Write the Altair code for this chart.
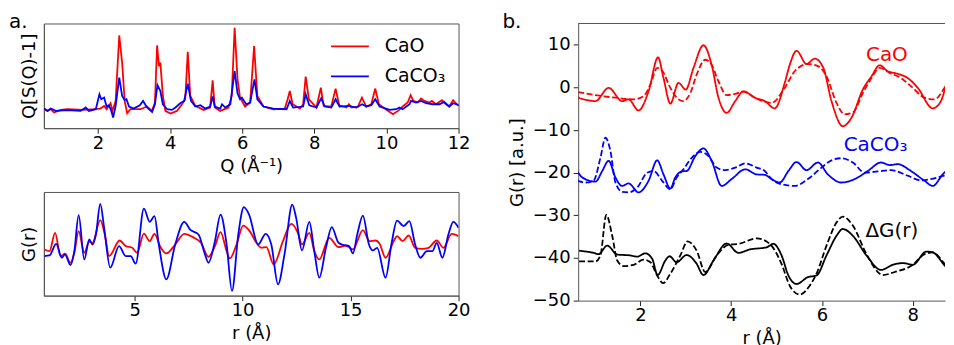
import altair as alt
import pandas as pd

FONT = "DejaVu Sans"

# ---------------- panel a, top: Q[S(Q)-1]  (Q, arbitrary units)
SQ_CAO = [(0.51,19),(0.6,17.3),(0.69,19),(0.78,15.7),(0.97,18.3),(1.15,19),(1.61,18.3),(1.89,19),
          (2.07,19.7),(2.17,22.3),(2.24,19),(2.35,25),(2.40,17.3),(2.49,27.3),(2.59,93),(2.67,65.7),
          (2.74,27.3),(2.81,15),(2.90,19),(3.18,19),(3.36,21.7),(3.5,17.3),(3.58,25.7),(3.64,83),
          (3.69,62.3),(3.73,65.7),(3.80,32.3),(3.87,17.3),(4.01,14.7),(4.19,17.3),(4.33,24),(4.42,29),
          (4.49,76.7),(4.56,32.3),(4.70,22.3),(4.93,18.3),(5.11,20.7),(5.18,48),(5.24,20.7),(5.39,17.3),
          (5.62,20.7),(5.71,32.3),(5.79,100.7),(5.87,49),(5.94,30.7),(6.08,21.7),(6.22,25.7),(6.33,82.3),
          (6.42,32.3),(6.59,21.7),(6.86,19),(7.18,19.7),(7.26,29),(7.32,37.3),(7.40,24),(7.6,19.7),
          (7.69,24),(7.76,51.7),(7.85,29),(8.06,20.7),(8.18,40.7),(8.26,22.3),(8.47,21.7),(8.59,39.7),
          (8.69,23),(8.89,20.7),(8.96,24),(9.03,20.7),(9.21,21.7),(9.32,30.7),(9.44,21.7),(9.58,24),
          (9.69,39.7),(9.79,24),(9.95,19.7),(10.09,16.3),(10.18,14),(10.32,17.3),(10.45,21.7),(10.59,25.7),
          (10.67,33),(10.75,27.3),(10.87,25.7),(10.96,29.7),(11.05,27.3),(11.19,25.7),(11.26,27.3),
          (11.37,24),(11.54,28),(11.65,24),(11.74,21.7),(11.85,28),(11.95,24),(12.02,22.3)]
SQ_CACO3 = [(0.51,19.7),(0.6,17.3),(0.69,19.7),(0.83,17.3),(1.15,18),(1.52,17.3),(1.66,20.7),(1.75,17.3),
            (1.94,19),(2.04,34),(2.09,29),(2.17,30.7),(2.24,21.7),(2.30,23),(2.37,17.3),(2.42,10.7),
            (2.49,22.3),(2.59,50.7),(2.67,32.3),(2.74,28.3),(2.79,29),(2.86,21.7),(2.99,19.7),(3.16,23),
            (3.25,27.3),(3.36,20.7),(3.5,16.3),(3.58,24),(3.65,43.3),(3.73,37.3),(3.80,24),(3.92,19),
            (4.05,18.3),(4.15,20.7),(4.28,25),(4.39,27.3),(4.49,44.7),(4.58,27.3),(4.70,21.7),(4.84,23),
            (4.97,19.7),(5.11,21.7),(5.18,31.7),(5.24,21.7),(5.39,19.7),(5.44,24),(5.53,20.7),(5.67,24),
            (5.79,57.3),(5.87,35),(5.94,29),(5.99,30.7),(6.11,24),(6.22,25.7),(6.34,49),(6.42,29),
            (6.59,21.7),(6.86,19.7),(7.23,19),(7.32,27.3),(7.41,20.7),(7.69,21.7),(7.76,34),(7.86,23),
            (8.06,20.7),(8.19,30),(8.29,21.7),(8.47,20.7),(8.59,29),(8.70,21.7),(8.96,22.3),(9.16,20.7),
            (9.33,24),(9.44,21.7),(9.58,23),(9.69,29),(9.81,21.7),(10.09,18.3),(10.27,19),(10.36,20.7),
            (10.45,19),(10.64,24),(10.68,27.3),(10.82,25.7),(10.96,27.3),(11.1,25),(11.28,24),(11.47,24),
            (11.6,26.3),(11.74,21.7),(11.85,25),(12.02,23)]

# ---------------- panel a, bottom: G(r)  (r, arbitrary units)
GR_CAO = [(0.83,46.3),(1.06,44.7),(1.32,63),(1.57,39.7),(1.78,42),(2.03,33),(2.21,43),(2.41,64.7),
          (2.67,43),(2.90,54),(3.05,53),(3.41,75.7),(3.62,61.3),(3.82,39.7),(4.31,55.3),(4.59,49.7),
          (4.89,48),(5.12,43),(5.43,62.3),(5.70,54.7),(5.92,62),(6.20,48.7),(6.47,42.3),(6.88,51.3),
          (7.30,62),(7.70,58.7),(8.07,53),(8.42,39),(8.72,49.7),(8.98,63.7),(9.26,44.7),(9.41,37.3),
          (9.72,51.3),(10.03,70.3),(10.33,64.7),(10.64,53),(10.87,48),(11.1,48.7),(11.44,31.3),
          (11.87,54.7),(12.25,72),(12.56,63),(12.75,51.3),(13.09,63),(13.32,44.7),(13.55,36.3),
          (14.01,58),(14.44,48.7),(14.78,50.3),(15.11,46.3),(15.57,65.7),(15.88,54.7),(16.16,55.3),
          (16.34,52.3),(16.62,38),(17.0,54.7),(17.15,59.7),(17.41,54.7),(17.69,60.3),(17.99,48),
          (18.3,47),(18.61,48),(18.99,55.3),(19.3,48),(19.68,62),(20.0,59.7)]
GR_CACO3 = [(0.83,39.7),(1.06,40.3),(1.37,52),(1.63,38),(1.78,41.3),(2.03,30.7),(2.21,44.7),(2.41,80.7),
            (2.67,36.3),(2.90,56.3),(3.05,51.3),(3.21,61.3),(3.41,92),(3.59,68),(3.87,28),(4.28,49.7),
            (4.59,39.7),(4.82,39.7),(5.05,32),(5.43,87.3),(5.70,74),(5.92,79.7),(6.12,51.3),(6.47,16.3),
            (6.88,51.3),(7.30,74),(7.57,66.3),(7.96,61.3),(8.26,41.3),(8.42,33),(8.72,54.7),(8.98,81.3),
            (9.26,51.3),(9.51,4.7),(9.80,61.3),(10.06,88.7),(10.30,81.3),(10.72,51.3),(11.07,62),
            (11.33,51.3),(11.64,11.3),(11.94,41.3),(12.3,91.3),(12.48,78),(12.75,45.3),(13.09,74),
            (13.32,44.7),(13.55,18),(13.86,48),(14.13,68.7),(14.44,53),(14.7,50.7),(14.93,49.7),
            (15.11,42.3),(15.31,61.3),(15.57,80.3),(15.85,51.3),(16.03,45.3),(16.23,48),(16.62,18),
            (16.89,51.3),(17.15,75.3),(17.46,69.7),(17.72,74.7),(17.99,51.3),(18.23,38),(18.53,44.7),
            (18.79,44.7),(18.99,53),(19.25,38),(19.53,61.3),(19.76,74),(20.0,68)]

# ---------------- panel b: G(r) [a.u.]
B_CAO_SOLID = [(0.63,-2.4),(1.01,-3.2),(1.30,-0.1),(1.60,-3.2),(1.74,-2.8),(1.96,-5.4),(2.18,-0.9),
               (2.39,7.06),(2.51,2.2),(2.66,-3.8),(2.84,1.06),(3.00,-0.5),(3.17,4.6),(3.39,9.9),(3.57,5.3),
               (3.72,-2.4),(3.90,-5.95),(4.09,-3.2),(4.27,-0.9),(4.52,-2.4),(4.74,-3.2),(4.96,-4.9),
               (5.18,1.06),(5.29,5.3),(5.44,8.6),(5.66,5.5),(5.84,6.75),(6.03,4.6),(6.21,-3.2),(6.46,-9.1),
               (6.65,-7.1),(6.90,-0.5),(7.09,2.6),(7.27,5.2),(7.45,3.8),(7.67,3.2),(7.89,2.2),(8.11,-0.1),
               (8.44,-4.9),(8.62,-3.2),(8.81,3.8),(8.89,6.3)]
B_CAO_DASH = [(0.63,-1.1),(1.01,-1.8),(1.45,-2.4),(1.85,-2.8),(2.07,-2.05),(2.22,0.67),(2.37,4.6),
              (2.49,3.8),(2.66,-0.1),(2.84,-2.8),(2.95,-3.2),(3.10,-1.3),(3.24,3.0),(3.43,6.5),(3.57,5.3),
              (3.72,1.45),(3.90,-1.8),(4.09,-1.5),(4.27,-1.0),(4.52,-2.4),(4.74,-3.4),(4.89,-3.6),
              (5.18,-0.1),(5.40,3.8),(5.69,5.5),(5.91,5.0),(6.10,2.6),(6.32,-3.6),(6.5,-6.3),(6.68,-5.9),
              (6.90,-1.3),(7.09,2.2),(7.27,4.6),(7.49,3.4),(7.74,2.2),(7.96,0.3),(8.26,-2.4),(8.48,-2.8),
              (8.70,-0.1),(8.89,3.4)]
B_CACO3_SOLID = [(0.61,-19.6),(0.72,-21.1),(1.01,-22.1),(1.16,-19.6),(1.30,-17.2),(1.45,-21.1),
                 (1.60,-23.1),(1.74,-22.5),(1.96,-24.6),(2.18,-21.9),(2.37,-17.1),(2.51,-20.4),
                 (2.66,-23.7),(2.77,-21.1),(2.91,-19.7),(3.02,-19.6),(3.21,-16.1),(3.39,-14.3),
                 (3.57,-17.2),(3.79,-23.1),(4.01,-21.5),(4.31,-19.2),(4.56,-20.4),(4.74,-20.5),
                 (4.89,-21.5),(5.07,-22.3),(5.26,-19.6),(5.44,-17.5),(5.66,-19.4),(5.91,-17.6),
                 (6.13,-20.4),(6.43,-22.3),(6.72,-21.5),(7.01,-19.6),(7.3,-17.6),(7.49,-18.2),
                 (7.67,-18.0),(7.96,-19.6),(8.26,-21.9),(8.44,-23.1),(8.66,-20.4),(8.89,-18.0)]
B_CACO3_DASH = [(0.61,-21.9),(0.79,-22.3),(0.97,-21.9),(1.12,-16.5),(1.23,-11.8),(1.34,-14.9),
                (1.45,-22.3),(1.60,-24.5),(1.74,-24.6),(1.93,-23.5),(2.15,-20.0),(2.29,-19.6),
                (2.48,-21.9),(2.66,-23.9),(2.80,-21.1),(2.95,-19.2),(3.13,-16.5),(3.32,-15.1),
                (3.50,-16.1),(3.68,-18.8),(3.87,-19.4),(4.09,-18.8),(4.31,-17.8),(4.56,-18.8),
                (4.74,-19.6),(4.89,-21.5),(5.11,-22.7),(5.40,-23.1),(5.69,-21.5),(5.99,-18.8),
                (6.21,-17.1),(6.43,-16.6),(6.68,-17.6),(6.94,-20.0),(7.23,-19.7),(7.52,-19.4),
                (7.89,-20.7),(8.18,-21.8),(8.40,-21.5),(8.70,-20.7),(8.89,-20.5)]
B_DG_SOLID = [(0.65,-38.3),(0.97,-38.8),(1.08,-39.1),(1.27,-37.1),(1.49,-39.2),(1.78,-39.4),(1.93,-39.7),
              (2.11,-38.9),(2.26,-40.2),(2.38,-44.0),(2.55,-40.6),(2.64,-39.6),(2.80,-41.0),(3.02,-39.3),
              (3.23,-41.2),(3.39,-44.0),(3.61,-40.6),(3.90,-36.6),(4.16,-38.8),(4.41,-38.0),(4.78,-37.5),
              (4.93,-36.7),(5.11,-39.4),(5.26,-44.1),(5.44,-46.1),(5.69,-44.5),(5.88,-44.1),(6.10,-39.4),
              (6.32,-34.8),(6.46,-33.2),(6.68,-34.8),(6.98,-39.4),(7.30,-42.8),(7.56,-41.6),(7.78,-41.2),
              (8.00,-41.6),(8.30,-38.5),(8.44,-38.7),(8.69,-41.6),(8.88,-44.0)]
B_DG_DASH = [(0.65,-40.8),(1.01,-40.8),(1.12,-39.4),(1.25,-29.9),(1.38,-34.8),(1.49,-40.6),(1.63,-41.9),
             (1.85,-41.6),(2.07,-40.4),(2.22,-41.0),(2.37,-44.1),(2.50,-45.9),(2.66,-43.7),(2.88,-39.4),
             (3.04,-36.1),(3.24,-38.3),(3.43,-43.3),(3.68,-39.4),(3.94,-36.9),(4.16,-36.7),(4.56,-35.4),
             (4.85,-36.7),(5.11,-41.4),(5.29,-46.5),(5.51,-48.6),(5.73,-46.5),(5.88,-43.7),(6.10,-37.1),
             (6.32,-31.7),(6.46,-30.3),(6.68,-32.4),(6.98,-39.1),(7.34,-44.0),(7.60,-43.3),(8.00,-41.6),
             (8.26,-39.1),(8.44,-38.7),(8.69,-41.2),(8.88,-43.7)]

SERIES_NAMES = ["CaO", "CaCO₃"]
SERIES_COLORS = ["#ff0000", "#0000ff"]
Q_TICKS = [2, 4, 6, 8, 10, 12]
RA_TICKS = [5, 10, 15, 20]
RB_XTICKS = [2, 4, 6, 8]
RB_YTICKS = [-50, -40, -30, -20, -10, 0, 10]
B_LABEL_TEXT = ["CaO", "CaCO₃", "ΔG(r)"]
B_LABEL_R = [7.43, 7.18, 7.54]
B_LABEL_G = [7.5, -13.4, -33.6]
B_LABEL_COLOR = ["#ff0000", "#0000ff", "#000000"]

LW = 1.8
FS = 18


def frame(pairs, xname, yname, **extra):
    df = pd.DataFrame(pairs, columns=[xname, yname])
    for k, v in extra.items():
        df[k] = v
    return df


# ---------- panel a top
sq = pd.concat([frame(SQ_CAO, "Q", "v", series="CaO"),
                frame(SQ_CACO3, "Q", "v", series="CaCO₃")], ignore_index=True)
top_lines = alt.Chart(sq).mark_line(strokeWidth=LW, clip=True).encode(
    x=alt.X("Q:Q", scale=alt.Scale(domain=[0.5, 12], nice=False, zero=False),
            axis=alt.Axis(values=Q_TICKS, title="Q (Å⁻¹)", titlePadding=5, labelPadding=1)),
    y=alt.Y("v:Q", scale=alt.Scale(domain=[0, 105], nice=False, zero=False),
            axis=alt.Axis(title="Q[S(Q)-1]", labels=False, ticks=False, titlePadding=5)),
    color=alt.Color("series:N", scale=alt.Scale(domain=SERIES_NAMES, range=SERIES_COLORS),
                    legend=alt.Legend(title=None, orient="none", legendX=287, legendY=3,
                                      symbolType="stroke", symbolSize=1444, symbolStrokeWidth=LW,
                                      labelFontSize=19, labelFont=FONT, labelColor="black",
                                      labelOffset=15, rowPadding=-4.5, padding=0)),
)
a_lab = alt.Chart(pd.DataFrame({"t": ["a."]})).mark_text(
    align="left", baseline="alphabetic", fontSize=20, font=FONT, color="black"
).encode(text="t:N", x=alt.value(-35), y=alt.value(5))
top = alt.layer(top_lines, a_lab).properties(width=416, height=105)

# ---------- panel a bottom
gr = pd.concat([frame(GR_CAO, "r", "g", series="CaO"),
                frame(GR_CACO3, "r", "g", series="CaCO₃")], ignore_index=True)
bottom = alt.Chart(gr).mark_line(strokeWidth=LW, interpolate="monotone", clip=True).encode(
    x=alt.X("r:Q", scale=alt.Scale(domain=[0.8, 20], nice=False, zero=False),
            axis=alt.Axis(values=RA_TICKS, title="r (Å)", titlePadding=5, labelPadding=1)),
    y=alt.Y("g:Q", scale=alt.Scale(domain=[0, 104], nice=False, zero=False),
            axis=alt.Axis(title="G(r)", labels=False, ticks=False, titlePadding=5)),
    color=alt.Color("series:N", scale=alt.Scale(domain=SERIES_NAMES, range=SERIES_COLORS), legend=None),
).properties(width=416, height=104)

left = alt.vconcat(top, bottom, spacing=15).resolve_scale(color="independent").resolve_legend(color="independent")

# ---------- panel b
rb = pd.concat([
    frame(B_CAO_SOLID, "r", "g", series="cao_s", col="#ff0000", dash="solid"),
    frame(B_CAO_DASH, "r", "g", series="cao_d", col="#ff0000", dash="dashed"),
    frame(B_CACO3_SOLID, "r", "g", series="caco3_s", col="#0000ff", dash="solid"),
    frame(B_CACO3_DASH, "r", "g", series="caco3_d", col="#0000ff", dash="dashed"),
    frame(B_DG_SOLID, "r", "g", series="dg_s", col="#000000", dash="solid"),
    frame(B_DG_DASH, "r", "g", series="dg_d", col="#000000", dash="dashed"),
], ignore_index=True)

xb = alt.X("r:Q", scale=alt.Scale(domain=[0.63, 8.71], nice=False, zero=False),
           axis=alt.Axis(values=RB_XTICKS, title="r (Å)", titlePadding=5, labelPadding=1))
yb = alt.Y("g:Q", scale=alt.Scale(domain=[-50, 15], nice=False, zero=False),
           axis=alt.Axis(values=RB_YTICKS, title="G(r) [a.u.]", titlePadding=6))

lines_b = alt.Chart(rb).mark_line(strokeWidth=LW, interpolate="monotone", clip=True).encode(
    x=xb, y=yb,
    color=alt.Color("col:N", scale=None),
    strokeDash=alt.StrokeDash("dash:N", scale=alt.Scale(domain=["solid", "dashed"], range=[[1, 0], [6, 2.6]]), legend=None),
    detail="series:N",
)
lab_df = pd.DataFrame({"t": B_LABEL_TEXT, "r": B_LABEL_R, "g": B_LABEL_G, "c": B_LABEL_COLOR})
labels_b = alt.Chart(lab_df).mark_text(fontSize=20, font=FONT, align="center", baseline="middle").encode(
    x="r:Q", y="g:Q", text="t:N", color=alt.Color("c:N", scale=None))
border_b = alt.Chart(pd.DataFrame({"g": [15]})).mark_rule(color="#555555", strokeWidth=1).encode(y="g:Q")
b_lab = alt.Chart(pd.DataFrame({"t": ["b."]})).mark_text(
    align="left", baseline="alphabetic", fontSize=20, font=FONT, color="black"
).encode(text="t:N", x=alt.value(-76), y=alt.value(5))

right = alt.layer(lines_b, labels_b, border_b, b_lab).properties(
    width=368, height=278, view=alt.ViewBackground(stroke="transparent"))

chart = alt.hconcat(left, right, spacing=31).resolve_scale(
    color="independent", strokeDash="independent"
).properties(
    padding={"left": 0, "top": 3, "right": 0, "bottom": 0}
).configure(font=FONT).configure_view(
    stroke="#555555", strokeWidth=1
).configure_axis(
    labelFont=FONT, titleFont=FONT, labelFontSize=FS, titleFontSize=FS,
    labelColor="black", titleColor="black", titleFontWeight="normal",
    tickColor="#222222", domainColor="#555555", tickSize=5, labelPadding=3,
    grid=False, labelFlush=False,
)

chart.save("out.html", embed_options={"renderer": "svg", "actions": False})
